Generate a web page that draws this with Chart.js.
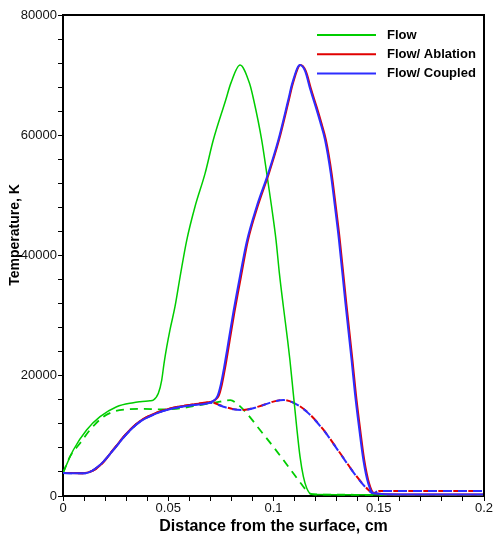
<!DOCTYPE html>
<html><head><meta charset="utf-8">
<script src="https://cdn.jsdelivr.net/npm/chart.js@4.4.0/dist/chart.umd.min.js"></script>
<style>html,body{margin:0;padding:0;background:#fff}</style>
</head><body>
<canvas id="c" width="495" height="534"></canvas>
<script>
// ---- data (x in cm, T in K) ----
const xFlow = [0, 0.0049, 0.0112, 0.0176, 0.0255, 0.0334, 0.0366, 0.0413, 0.0429, 0.0453, 0.0469, 0.048, 0.0493, 0.0508, 0.0532, 0.0559, 0.0588, 0.0627, 0.0675, 0.0714, 0.0773, 0.0797, 0.0841, 0.0886, 0.0906, 0.0944, 0.0968, 0.0991, 0.1012, 0.1028, 0.1047, 0.1067, 0.1078, 0.1094, 0.111, 0.1126, 0.1142, 0.1158, 0.1181, 0.13, 0.15, 0.2];
const tFlow = [3825, 7650, 10980, 13190, 14850, 15520, 15680, 15850, 15960, 17080, 19290, 22070, 24830, 27600, 31480, 37030, 42570, 48110, 53660, 59200, 65860, 68630, 71680, 68630, 65860, 59200, 53660, 48110, 42570, 37030, 31480, 25940, 22620, 17080, 11520, 6540, 3210, 1280, 280, 220, 200, 200];

const xFlowDash = [0, 0.0033, 0.0081, 0.0128, 0.0192, 0.0239, 0.03, 0.038, 0.0461, 0.0556, 0.0651, 0.0746, 0.0795, 0.0825, 0.0873, 0.0936, 0.0999, 0.1047, 0.1094, 0.1142, 0.1165, 0.12, 0.15, 0.2];
const tFlowDash = [3825, 6540, 8760, 10980, 13190, 14020, 14400, 14500, 14410, 14580, 15130, 15680, 15960, 15400, 13750, 10980, 8200, 5990, 3770, 1550, 560, 250, 200, 200];

const xCoupled = [0, 0.0097, 0.0144, 0.0192, 0.0239, 0.0302, 0.0366, 0.0445, 0.0524, 0.0619, 0.0698, 0.072, 0.0735, 0.075, 0.0765, 0.078, 0.0795, 0.081, 0.0825, 0.0841, 0.0873, 0.092, 0.0975, 0.1023, 0.107, 0.1089, 0.1126, 0.115, 0.1175, 0.12, 0.1222, 0.1245, 0.1272, 0.1292, 0.1311, 0.1342, 0.1371, 0.1387, 0.1406, 0.1427, 0.145, 0.1474, 0.16, 0.2];
const tCoupled = [3825, 3770, 4320, 5710, 7650, 10310, 12360, 13750, 14580, 15130, 15520, 15960, 16700, 18600, 21300, 24400, 27600, 30700, 33600, 36600, 42300, 48110, 53660, 59200, 65860, 68630, 71680, 70700, 67600, 64800, 62200, 59200, 53660, 48110, 42570, 32000, 22620, 17080, 11520, 5990, 2100, 450, 250, 250];

const xAblation = [0, 0.0097, 0.0144, 0.0192, 0.0239, 0.0302, 0.0366, 0.0445, 0.0524, 0.0619, 0.0698, 0.0722, 0.074, 0.0755, 0.077, 0.0785, 0.08, 0.0815, 0.083, 0.0846, 0.0877, 0.0924, 0.0978, 0.1026, 0.1073, 0.1092, 0.1128, 0.1153, 0.1179, 0.1204, 0.1226, 0.1249, 0.1276, 0.1296, 0.1315, 0.1346, 0.1375, 0.1391, 0.141, 0.1431, 0.1454, 0.1478, 0.16, 0.2];
const tAblation = [3825, 3800, 4250, 5650, 7700, 10400, 12450, 13850, 14680, 15230, 15620, 15960, 16700, 18600, 21300, 24400, 27600, 30700, 33600, 36600, 42300, 48110, 53660, 59200, 65860, 68630, 71680, 70700, 67600, 64800, 62200, 59200, 53660, 48110, 42570, 32000, 22620, 17080, 11520, 5990, 2100, 450, 250, 250];

const xCoupledDash = [0, 0.0097, 0.0144, 0.0192, 0.0239, 0.0302, 0.0366, 0.0445, 0.0524, 0.0619, 0.0698, 0.0762, 0.0809, 0.0857, 0.0928, 0.0999, 0.1047, 0.1094, 0.1158, 0.1237, 0.1316, 0.1395, 0.145, 0.1474, 0.15, 0.2];
const tCoupledDash = [3825, 3770, 4320, 5710, 7650, 10310, 12360, 13750, 14580, 15130, 15520, 14850, 14410, 14300, 14850, 15680, 15960, 15520, 14020, 10980, 7100, 3210, 1000, 450, 850, 850];

const xAblationDash = [0, 0.0097, 0.0144, 0.0192, 0.0239, 0.0302, 0.0366, 0.0445, 0.0524, 0.0619, 0.0698, 0.0762, 0.0809, 0.0857, 0.0928, 0.0999, 0.1047, 0.1094, 0.1158, 0.1237, 0.1316, 0.1395, 0.145, 0.1476, 0.15, 0.2];
const tAblationDash = [3825, 3800, 4250, 5650, 7700, 10400, 12450, 13850, 14680, 15230, 15620, 14900, 14450, 14320, 14870, 15700, 15980, 15540, 14050, 11020, 7150, 3250, 1050, 450, 850, 850];

const legendLabels = ['Flow', 'Flow/ Ablation', 'Flow/ Coupled'];
const xTickLabels = ['0', '0.05', '0.1', '0.15', '0.2'];
const yTickLabels = ['0', '20000', '40000', '60000', '80000'];
const xTitle = 'Distance from the surface, cm';
const yTitle = 'Temperature, K';

const GREEN = 'rgb(0,205,0)', RED = 'rgb(225,0,0)', BLUE = 'rgb(45,45,255)';
const FONT = '"Liberation Sans", Arial, sans-serif';

function pts(xs, ys) { return xs.map((x, i) => ({ x: x, y: ys[i] })); }

const datasets = [
  { label: legendLabels[2], data: pts(xCoupled, tCoupled), borderColor: BLUE, borderWidth: 2, order: 0 },
  { label: legendLabels[1], data: pts(xAblation, tAblation), borderColor: RED, borderWidth: 2, order: 1 },
  { label: legendLabels[0], data: pts(xFlow, tFlow), borderColor: GREEN, borderWidth: 1.5, order: 2 },
  { label: legendLabels[2] + ' (dashed)', data: pts(xCoupledDash, tCoupledDash), borderColor: BLUE, borderWidth: 2, borderDash: [9, 6], order: 3 },
  { label: legendLabels[1] + ' (dashed)', data: pts(xAblationDash, tAblationDash), borderColor: RED, borderWidth: 2, borderDash: [9, 6], borderDashOffset: 4, order: 4 },
  { label: legendLabels[0] + ' (dashed)', data: pts(xFlowDash, tFlowDash), borderColor: GREEN, borderWidth: 1.8, borderDash: [8, 6], order: 5 }
];
datasets.forEach(d => { d.pointRadius = 0; d.fill = false; d.cubicInterpolationMode = 'monotone'; });

const legendColors = [GREEN, RED, BLUE];

const decor = {
  id: 'decor',
  afterDraw(chart) {
    const ctx = chart.ctx, a = chart.chartArea;
    ctx.save();
    ctx.strokeStyle = '#000';
    ctx.lineWidth = 2;
    ctx.beginPath();
    ctx.moveTo(a.left, a.top); ctx.lineTo(a.right, a.top); ctx.lineTo(a.right, a.bottom);
    ctx.stroke();
    ctx.font = 'bold 13px ' + FONT;
    ctx.textBaseline = 'middle';
    ctx.textAlign = 'left';
    legendLabels.forEach((lab, i) => {
      const y = 35 + i * 19.2;
      ctx.strokeStyle = legendColors[i];
      ctx.lineWidth = 2;
      ctx.beginPath(); ctx.moveTo(317, y); ctx.lineTo(376, y); ctx.stroke();
      ctx.fillStyle = '#000';
      ctx.fillText(lab, 387, y + 0.5);
    });
    ctx.fillStyle = '#000';
    ctx.font = 'bold 16px ' + FONT;
    ctx.textAlign = 'center';
    ctx.textBaseline = 'alphabetic';
    ctx.fillText(xTitle, (a.left + a.right) / 2, 531);
    ctx.translate(18.5, 235);
    ctx.rotate(-Math.PI / 2);
    ctx.font = 'bold 14px ' + FONT;
    ctx.fillText(yTitle, 0, 0);
    ctx.restore();
  }
};

new Chart(document.getElementById('c'), {
  type: 'line',
  data: { datasets: datasets },
  plugins: [decor],
  options: {
    responsive: false,
    devicePixelRatio: 1,
    animation: false,
    layout: { padding: { left: 0, right: 11, top: 15, bottom: 0 } },
    plugins: { legend: { display: false }, tooltip: { enabled: false } },
    scales: {
      x: {
        type: 'linear', min: 0, max: 0.2,
        afterFit(s) { s.height = 38; },
        ticks: {
          stepSize: 0.01, autoSkip: false, maxRotation: 0, padding: 0,
          color: '#111', font: { family: FONT, size: 13 },
          callback(v) {
            const k = Math.round(v / 0.05);
            return Math.abs(v - k * 0.05) < 1e-6 ? xTickLabels[k] : '';
          }
        },
        grid: { drawOnChartArea: false, drawTicks: true, tickLength: 5, color: '#000', tickWidth: 1 },
        border: { display: true, color: '#000', width: 2 }
      },
      y: {
        type: 'linear', min: 0, max: 80000,
        afterFit(s) { s.width = 63; },
        ticks: {
          stepSize: 4000, autoSkip: false, padding: 1,
          color: '#111', font: { family: FONT, size: 13 },
          callback(v) {
            const k = Math.round(v / 20000);
            return Math.abs(v - k * 20000) < 1e-3 ? yTickLabels[k] : '';
          }
        },
        grid: { drawOnChartArea: false, drawTicks: true, tickLength: 5, color: '#000', tickWidth: 1 },
        border: { display: true, color: '#000', width: 2 }
      }
    }
  }
});
</script>
</body></html>
